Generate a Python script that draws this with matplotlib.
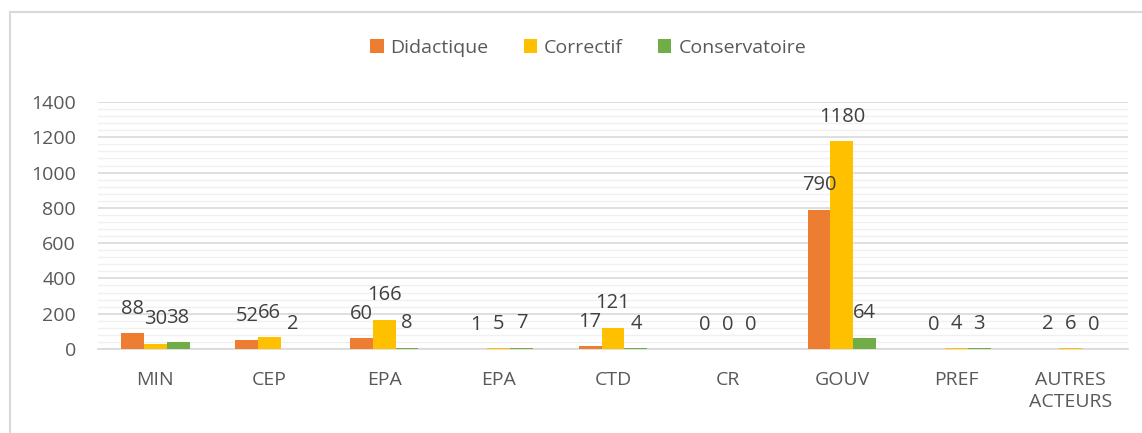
import matplotlib
matplotlib.use("Agg")
import matplotlib.pyplot as plt
import numpy as np
from matplotlib.lines import Line2D
from matplotlib.ticker import MultipleLocator

categories = ["MIN", "CEP", "EPA", "EPA", "CTD", "CR", "GOUV", "PREF", "AUTRES\nACTEURS"]
series_names = ["Didactique", "Correctif", "Conservatoire"]
didactique = [88, 52, 60, 1, 17, 0, 790, 0, 2]
correctif = [30, 66, 166, 5, 121, 0, 1180, 4, 6]
conservatoire = [38, 2, 8, 7, 4, 0, 64, 3, 0]
colors = ["#ED7D31", "#FFC000", "#70AD47"]

plt.rcParams['font.family'] = ['Open Sans', 'DejaVu Sans']

W, H = 1142, 433
fig = plt.figure(figsize=(W / 100, H / 100), dpi=100)
ax = fig.add_axes([98 / W, 1 - 349 / H, (1128 - 98) / W, (349 - 102) / H])

x = np.arange(len(categories))
bw = 0.2
series = [didactique, correctif, conservatoire]
for i, (vals, name, c) in enumerate(zip(series, series_names, colors)):
    pos = x + (i - 1) * bw
    ax.bar(pos, vals, width=bw, color=c, label=name, zorder=3)
    for xp, v in zip(pos, vals):
        ax.annotate(str(v), (xp, v), xytext=(0, 17.5), textcoords="offset points",
                    ha="center", va="center", fontsize=14.5, color="#404040", zorder=4)

ax.set_xlim(-0.5, len(categories) - 0.5)
ax.set_ylim(0, 1400)
ax.yaxis.set_major_locator(MultipleLocator(200))
ax.yaxis.set_minor_locator(MultipleLocator(40))
ax.grid(axis="y", which="major", color="#D9D9D9", linewidth=1.2, zorder=0)
ax.grid(axis="y", which="minor", color="#F0F0F0", linewidth=1.0, zorder=0)
ax.set_axisbelow(True)
for s in ["top", "right", "left"]:
    ax.spines[s].set_visible(False)
ax.spines["bottom"].set_color("#D9D9D9")
ax.spines["bottom"].set_linewidth(1.2)
ax.set_xticks(x)
ax.set_xticklabels(categories, linespacing=1.3)
ax.tick_params(axis="x", length=0, pad=16, labelsize=14, labelcolor="#595959")
ax.tick_params(axis="y", which="both", length=0, pad=16, labelsize=14, labelcolor="#595959")

fig.legend(loc="center", bbox_to_anchor=(588 / W, 1 - 48 / H), ncol=3, frameon=False,
           fontsize=14, handlelength=0.7, handleheight=0.7, handletextpad=0.35,
           columnspacing=1.8, labelcolor="#595959")

fig.add_artist(Line2D([10 / W, 10 / W], [0, 1 - 12 / H], transform=fig.transFigure,
                      color="#D9D9D9", linewidth=1.5))
fig.add_artist(Line2D([10 / W, 1], [1 - 12 / H, 1 - 12 / H], transform=fig.transFigure,
                      color="#D9D9D9", linewidth=1.5))

fig.savefig("out.png", dpi=100)
